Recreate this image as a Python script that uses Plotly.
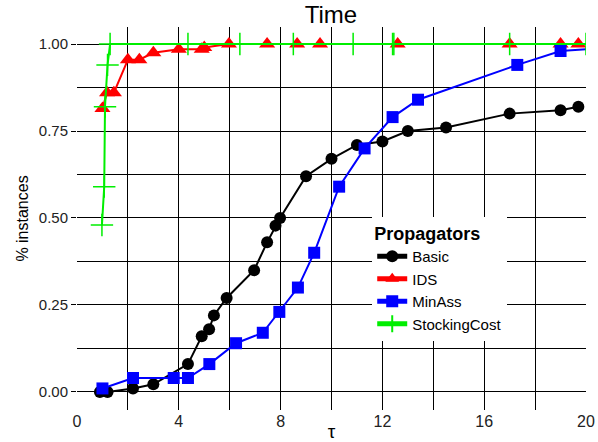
import plotly.graph_objects as go

basic_x = [0.9, 1.2, 2.2, 3.0, 4.36, 4.9, 5.19, 5.38, 5.88, 6.96, 7.47, 7.8, 7.98, 9.0, 10.0, 11.0, 12.0, 13.0, 14.5, 17.0, 19.0, 19.7]
basic_y = [0.0, 0.0, 0.01, 0.022, 0.08, 0.16, 0.18, 0.22, 0.27, 0.35, 0.43, 0.478, 0.50, 0.62, 0.67, 0.71, 0.72, 0.75, 0.76, 0.80, 0.81, 0.82]

ids_x = [1.0, 1.18, 1.45, 2.0, 2.45, 3.0, 4.0, 4.9, 5.0, 5.97, 7.47, 8.65, 9.55, 12.6, 17.0, 19.0, 19.7]
ids_y = [0.815, 0.86, 0.86, 0.955, 0.955, 0.975, 0.985, 0.985, 0.99, 1.0, 1.0, 1.0, 1.0, 1.0, 1.0, 1.0, 1.0]

minass_x = [1.0, 2.2, 3.8, 4.36, 5.2, 6.25, 7.3, 7.95, 8.68, 9.32, 10.3, 11.3, 12.4, 13.4, 17.3, 19.0, 21.0]
minass_y = [0.01, 0.04, 0.04, 0.04, 0.08, 0.14, 0.17, 0.23, 0.30, 0.40, 0.59, 0.70, 0.79, 0.84, 0.94, 0.98, 0.99]

stock_x = [0.98, 1.07, 1.1, 1.2, 1.3, 4.36, 6.4, 8.5, 10.85, 12.4, 12.45, 17.0, 20.0]
stock_y = [0.48, 0.59, 0.82, 0.94, 1.0, 1.0, 1.0, 1.0, 1.0, 1.0, 1.0, 1.0, 1.0]

y_ticks = [0.0, 0.25, 0.5, 0.75, 1.0]
y_labels = ["0.00", "0.25", "0.50", "0.75", "1.00"]
x_ticks = [0, 4, 8, 12, 16, 20]

FONT = "Liberation Sans, Arial, sans-serif"

fig = go.Figure()
fig.add_trace(go.Scatter(x=basic_x, y=basic_y, name="Basic", mode="lines+markers",
                         line=dict(color="black", width=2),
                         marker=dict(symbol="circle", size=12, color="black")))
fig.add_trace(go.Scatter(x=ids_x, y=ids_y, name="IDS", mode="lines+markers",
                         line=dict(color="#ff0000", width=2),
                         marker=dict(symbol="triangle-up", size=14, color="#ff0000")))
fig.add_trace(go.Scatter(x=minass_x, y=minass_y, name="MinAss", mode="lines+markers",
                         line=dict(color="#0000ff", width=2),
                         marker=dict(symbol="square", size=12, color="#0000ff")))
fig.add_trace(go.Scatter(x=stock_x, y=stock_y, name="StockingCost", mode="lines+markers",
                         line=dict(color="#00ee00", width=2),
                         marker=dict(symbol="cross-thin-open", size=16,
                                     line=dict(color="#00ee00", width=1.5))))

fig.update_layout(
    width=598, height=442,
    margin=dict(l=77, r=12, t=27, b=32, autoexpand=False),
    paper_bgcolor="white", plot_bgcolor="white",
    font=dict(family=FONT, color="black"),
    title=dict(text="Time", x=0.5535, xanchor="center", y=0.968, yanchor="middle",
               font=dict(size=24, color="black")),
    legend=dict(x=0.58, y=0.505, xanchor="left", yanchor="top",
                bgcolor="white", borderwidth=0,
                title=dict(text="<b>Propagators</b>", font=dict(size=18)),
                font=dict(size=15), tracegroupgap=0, itemsizing="constant"),
    showlegend=True,
)
fig.update_xaxes(range=[0, 20], tickvals=x_ticks, ticks="", showgrid=True, automargin=False,
                 gridcolor="black", gridwidth=1, zeroline=False, showline=False,
                 minor=dict(dtick=2, showgrid=True, gridcolor="black", gridwidth=1),
                 tickfont=dict(size=16, color="#222"),
                 title=dict(text="τ", font=dict(size=19), standoff=2))
fig.update_yaxes(range=[-0.052, 1.049], tickvals=y_ticks, ticktext=y_labels, automargin=False,
                 ticks="outside", ticklen=5, tickcolor="black", showgrid=True,
                 gridcolor="black", gridwidth=1, zeroline=False, showline=False,
                 minor=dict(tick0=0, dtick=0.125, showgrid=True, gridcolor="black", gridwidth=1),
                 tickfont=dict(size=15, color="#222"),
                 title=dict(text="% instances", font=dict(size=16), standoff=6))

fig.write_html("out.html")
